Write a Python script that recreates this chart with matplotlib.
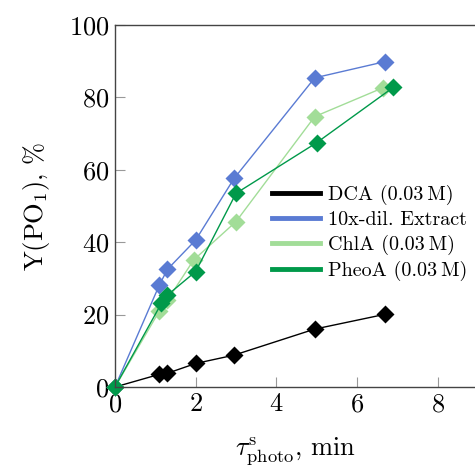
import matplotlib
matplotlib.use("Agg")
import matplotlib.pyplot as plt
from matplotlib.lines import Line2D

plt.rcParams['font.family'] = ['cmr10', 'DejaVu Serif']
plt.rcParams['mathtext.fontset'] = 'cm'
plt.rcParams['axes.formatter.use_mathtext'] = True

# Data
dca_x = [0, 1.1, 1.3, 2.0, 2.95, 4.95, 6.7]
dca_y = [0, 3.5, 3.8, 6.5, 8.8, 16.0, 20.1]
ext_x = [0, 1.1, 1.3, 2.0, 2.95, 4.95, 6.7]
ext_y = [0, 28.2, 32.5, 40.6, 57.6, 85.4, 89.9]
chla_x = [0, 1.1, 1.3, 1.95, 3.0, 4.95, 6.65]
chla_y = [0, 21.0, 24.0, 35.1, 45.7, 74.7, 82.7]
pheo_x = [0, 1.15, 1.3, 2.0, 3.0, 5.0, 6.9]
pheo_y = [0, 23.1, 25.4, 31.9, 53.5, 67.5, 82.8]

labels = ["DCA (0.03\u2009M)", "10x-dil. Extract", "ChlA (0.03\u2009M)", "PheoA (0.03\u2009M)"]
colors = ["#000000", "#5a7bd3", "#a2dd98", "#00994a"]

fig = plt.figure(figsize=(4.75, 4.68), dpi=100)
ax = fig.add_axes([115/475, 81/468, 1 - 115/475, (387-25)/468])

series = [(dca_x, dca_y), (ext_x, ext_y), (chla_x, chla_y), (pheo_x, pheo_y)]
for (x, y), lab, c in zip(series, labels, colors):
    ax.plot(x, y, color=c, lw=1.0, marker='D', ms=9, mec='none', mfc=c, clip_on=False)

ax.set_xlim(0, (475-115)/40.35)
ax.set_ylim(0, 100)
ax.set_xticks([0, 2, 4, 6, 8])
ax.set_yticks([0, 20, 40, 60, 80, 100])
ax.tick_params(direction='in', length=7, width=0.8, color='#999999', labelsize=19, pad=4)
for s in ['left', 'bottom', 'top']:
    ax.spines[s].set_color('#444444')
    ax.spines[s].set_linewidth(1.0)
ax.spines['right'].set_visible(False)
ax.tick_params(axis='x', top=False)
ax.tick_params(axis='y', right=False)

ax.set_xlabel(r'$\tau^{\rm s}_{\rm photo}$, min', fontsize=19, labelpad=14)
ax.set_ylabel(r'Y(PO$_1$), %', fontsize=19, labelpad=12)

handles = [Line2D([], [], color=c, lw=3.5) for c in colors]
leg = ax.legend(handles, labels, loc='upper left', bbox_to_anchor=(0.425, 0.57),
                frameon=True, fontsize=14.5, handlelength=2.4, handletextpad=0.4,
                labelspacing=0.3, borderpad=0.2, borderaxespad=0)
leg.get_frame().set_edgecolor('white')
leg.get_frame().set_facecolor('white')
leg.get_frame().set_alpha(1)

fig.savefig('out.png', dpi=100)
